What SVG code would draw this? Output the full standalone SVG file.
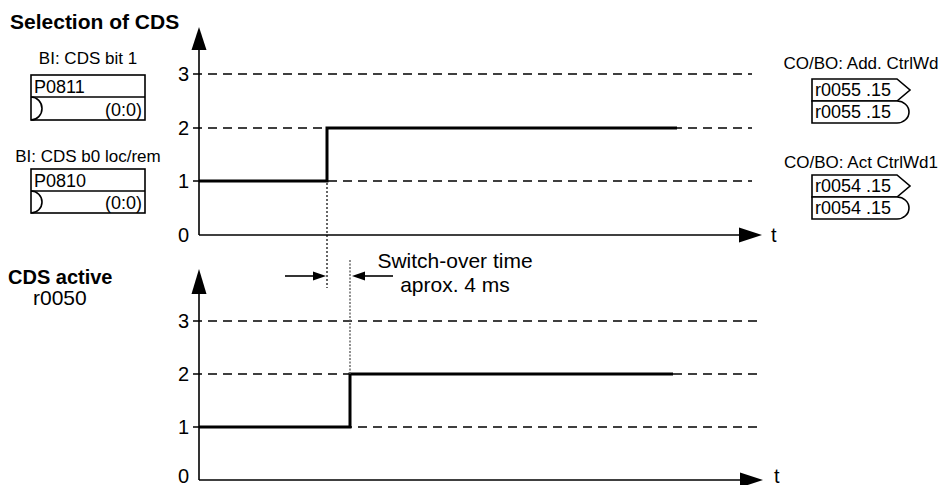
<svg xmlns="http://www.w3.org/2000/svg" width="943" height="485" viewBox="0 0 943 485">
<style>
text{font-family:"Liberation Sans",Arial,sans-serif;fill:#000}
.b{font-weight:bold;font-size:21px}
.lbl{font-size:17px}
.bx{font-size:18px}
.num{font-size:20px}
.sw{font-size:21px}
.ax{stroke:#000;stroke-width:1.6;fill:none}
.dash{stroke:#000;stroke-width:1.5;stroke-dasharray:9,6;fill:none}
.sig{stroke:#000;stroke-width:3;fill:none}
.dot{stroke:#000;stroke-width:1.2;stroke-dasharray:2,2;fill:none}
.dot2{stroke:#555;stroke-width:1.3;stroke-dasharray:2,1.5;fill:none}
.box{stroke:#000;stroke-width:1.6;fill:#fff}
.ah{fill:#000;stroke:none}
</style>
<text class="b" x="10" y="29">Selection of CDS</text>
<text class="b" x="8" y="284" style="font-size:20px">CDS active</text>
<text class="num" x="33" y="305" style="font-size:21px">r0050</text>

<g id="bi-p0811">
<text class="lbl" x="88" y="64" text-anchor="middle">BI: CDS bit 1</text>
<rect class="box" x="31" y="75" width="114" height="45"/>
<line class="ax" x1="31" y1="97" x2="145" y2="97"/>
<path class="ax" d="M31,97 A11,11.5 0 0 1 31,120"/>
<text class="bx" x="34" y="93">P0811</text>
<text class="bx" x="142" y="116" text-anchor="end">(0:0)</text>
</g>
<g id="bi-p0810">
<text class="lbl" x="88" y="162" text-anchor="middle">BI: CDS b0 loc/rem</text>
<rect class="box" x="31" y="169" width="114" height="44"/>
<line class="ax" x1="31" y1="191" x2="145" y2="191"/>
<path class="ax" d="M31,191 A11,11 0 0 1 31,213"/>
<text class="bx" x="34" y="187">P0810</text>
<text class="bx" x="142" y="209" text-anchor="end">(0:0)</text>
</g>
<g id="co-r0055">
<text class="lbl" x="861" y="69" text-anchor="middle">CO/BO: Add. CtrlWd</text>
<path class="box" d="M812,79 H897 L910,90 L897,101 H812 Z"/>
<path class="box" d="M812,101 H897 A12,11 0 0 1 897,123 H812 Z"/>
<text class="bx" x="815" y="96">r0055 .15</text>
<text class="bx" x="815" y="118">r0055 .15</text>
</g>
<g id="co-r0054">
<text class="lbl" x="861" y="168" text-anchor="middle">CO/BO: Act CtrlWd1</text>
<path class="box" d="M812,175 H897 L910,186 L897,197 H812 Z"/>
<path class="box" d="M812,197 H897 A12,11 0 0 1 897,219 H812 Z"/>
<text class="bx" x="815" y="192">r0054 .15</text>
<text class="bx" x="815" y="214">r0054 .15</text>
</g>

<g id="chart-top">
<line class="dash" x1="193" y1="74" x2="752" y2="74"/>
<line class="dash" x1="193" y1="128" x2="752" y2="128"/>
<line class="dash" x1="193" y1="181" x2="752" y2="181"/>
<line class="ax" x1="199" y1="48" x2="199" y2="235"/>
<line class="ax" x1="199" y1="235" x2="742" y2="235"/>
<polygon class="ah" points="199,27 191.5,50 206.5,50"/>
<polygon class="ah" points="762,235 739,227.5 739,242.5"/>
<text class="num" x="189" y="81" text-anchor="end">3</text>
<text class="num" x="189" y="135" text-anchor="end">2</text>
<text class="num" x="189" y="188" text-anchor="end">1</text>
<text class="num" x="189" y="242" text-anchor="end">0</text>
<text class="num" x="771" y="242">t</text>
<polyline class="sig" points="199,181 327,181 327,128 677,128"/>
</g>

<g id="chart-bottom">
<line class="dash" x1="193" y1="321" x2="763" y2="321"/>
<line class="dash" x1="193" y1="374" x2="763" y2="374"/>
<line class="dash" x1="193" y1="427" x2="763" y2="427"/>
<line class="ax" x1="199" y1="292" x2="199" y2="480"/>
<line class="ax" x1="199" y1="480" x2="742" y2="480"/>
<polygon class="ah" points="199,269 191.5,294 206.5,294"/>
<polygon class="ah" points="763,480 740,472.5 740,487.5"/>
<text class="num" x="189" y="483" text-anchor="end">0</text>
<text class="num" x="189" y="328" text-anchor="end">3</text>
<text class="num" x="189" y="381" text-anchor="end">2</text>
<text class="num" x="189" y="434" text-anchor="end">1</text>
<text class="num" x="774" y="483">t</text>
<polyline class="sig" points="199,427 350,427 350,374 673,374"/>
</g>

<g id="connectors">
<line class="dot" x1="327" y1="183" x2="327" y2="288"/>
<line class="dot2" x1="350" y1="260" x2="350" y2="374"/>
<line class="ax" x1="285" y1="276" x2="316" y2="276"/>
<polygon class="ah" points="326,276 313,271.5 313,280.5"/>
<line class="ax" x1="393" y1="276" x2="362" y2="276"/>
<polygon class="ah" points="352,276 365,271.5 365,280.5"/>
</g>
<text class="sw" x="455" y="268" text-anchor="middle">Switch-over time</text>
<text class="sw" x="455" y="292" text-anchor="middle">aprox. 4 ms</text>
</svg>
